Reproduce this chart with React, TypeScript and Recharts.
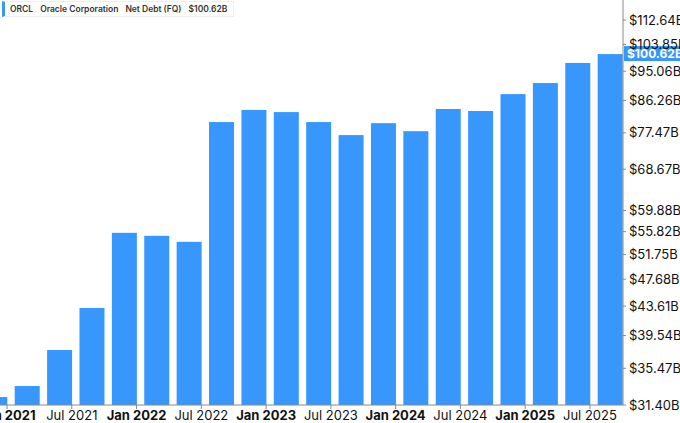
import { BarChart, Bar, XAxis, YAxis, ReferenceLine } from "recharts"

// months after Jan 2021 at which each fiscal quarter ends
const periodEnd = [0, 3, 6, 9, 12, 15, 18, 21, 24, 27, 30, 33, 36, 39, 42, 45, 48, 51, 54, 57]
// net debt in $B
const netDebt = [
  32.24, 33.44, 37.69, 43.32, 55.6, 55.05, 53.96, 80.3, 83.6, 83.0,
  80.3, 76.9, 80.0, 77.9, 83.85, 83.3, 88.1, 91.4, 97.7, 100.62,
]

const xTickMonths = [0, 6, 12, 18, 24, 30, 36, 42, 48, 54]
const xTickLabels = [
  "Jan 2021", "Jul 2021", "Jan 2022", "Jul 2022", "Jan 2023",
  "Jul 2023", "Jan 2024", "Jul 2024", "Jan 2025", "Jul 2025",
]
const yTicks = [31.4, 35.47, 39.54, 43.61, 47.68, 51.75, 55.82, 59.88, 68.67, 77.47, 86.26, 95.06, 103.85, 112.64]

const BLUE = "#3797fd"
const FONT = "Inter, 'Liberation Sans', sans-serif"

const data = periodEnd.map((m, i) => ({ m, value: netDebt[i] }))
const last = netDebt[netDebt.length - 1]

// bar drawn so its right edge sits on the quarter end date
const BarShape = (p: any) => (
  <rect x={p.x - p.width / 2} y={p.y} width={p.width} height={p.height} fill={BLUE} />
)

const XTick = (p: any) => {
  const label = xTickLabels[xTickMonths.indexOf(p.payload.value)]
  const bold = label.startsWith("Jan")
  return (
    <text x={p.x} y={p.y + 9} textAnchor="middle" fontSize={13} fontFamily={FONT}
      fontWeight={bold ? 700 : 400} fill="#111">
      {label}
    </text>
  )
}

const PriceTag = (p: any) => {
  const vb = p.viewBox
  const x = vb.x + vb.width
  return (
    <g>
      <rect x={x + 1} y={vb.y - 8} width={60} height={15} fill={BLUE} />
      <text x={x + 4} y={vb.y + 4} fontSize={12} fontWeight={700} fontFamily={FONT} fill="#fff">
        ${last.toFixed(2)}B
      </text>
    </g>
  )
}

const LegendBox = () => (
  <div style={{
    position: "absolute", left: 2, top: 1, zIndex: 2,
    display: "inline-flex", alignItems: "center", gap: 7, background: "#fff",
    border: "1px solid #eee", borderLeft: `3px solid ${BLUE}`, padding: "2px 6px 2px 5px",
    fontFamily: FONT, fontSize: 8.5, fontWeight: 600, color: "#333", lineHeight: "10px",
  }}>
    <span>ORCL</span>
    <span>Oracle Corporation</span>
    <span>Net Debt (FQ)</span>
    <span>${last.toFixed(2)}B</span>
  </div>
)

export default function App() {
  return (
    <div style={{ position: "absolute", left: 0, top: 0, width: 680, height: 423, background: "#fff" }}>
      <BarChart width={680} height={423} data={data} margin={{ top: 0, right: 0, bottom: 0, left: 0 }}>
        <XAxis
          dataKey="m"
          type="number"
          domain={[-0.65, 57.06]}
          allowDataOverflow
          ticks={xTickMonths}
          interval={0}
          height={18}
          stroke="#888"
          tickSize={4}
          tick={<XTick />}
        />
        <YAxis
          orientation="right"
          type="number"
          scale="log"
          domain={[31.4, 120.4]}
          allowDataOverflow
          ticks={yTicks}
          interval={0}
          width={57}
          stroke="#888"
          tickSize={3}
          tickMargin={3}
          tick={{ fontSize: 13, fill: "#111", fontFamily: FONT }}
          tickFormatter={(v: number) => `$${v.toFixed(2)}B`}
        />
        <Bar dataKey="value" barSize={25} shape={<BarShape />} isAnimationActive={false} />
        <ReferenceLine y={last} stroke="none" ifOverflow="visible" label={{ content: <PriceTag /> }} />
      </BarChart>
      <LegendBox />
    </div>
  )
}
